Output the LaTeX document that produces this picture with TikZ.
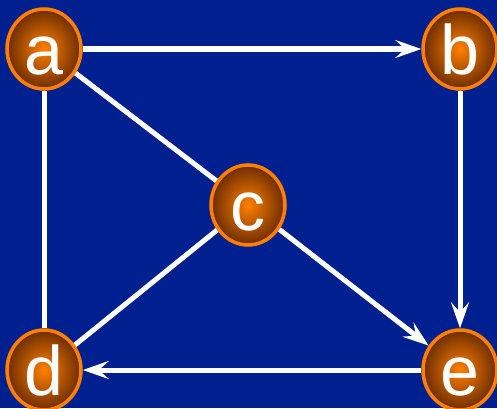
\documentclass[tikz,border=0pt]{standalone}
\usepackage{fontspec}
\setmainfont{Liberation Sans}
\usepackage{tikz}
\usetikzlibrary{shapes.geometric,arrows.meta}

\definecolor{bgblue}{RGB}{0,32,143}
\definecolor{nodeorange}{RGB}{255,128,0}
\definecolor{nodebrown}{RGB}{110,45,0}

\tikzset{
  vertex/.style={ellipse,draw=nodeorange,line width=3.5pt,inner color=nodeorange,outer color=nodebrown,
    minimum width=74pt,minimum height=80pt,inner sep=0pt,text=white,text height=50pt,text depth=0pt,
    font=\fontsize{70}{70}\selectfont},
  edge/.style={white,line width=5pt}
}

\begin{document}
\begin{tikzpicture}[x=1pt,y=1pt,>={Stealth[length=26pt,width=18pt,inset=10pt]}]
      \fill[bgblue] (0,0) rectangle (497,408);
      \useasboundingbox (0,0) rectangle (497,408);
      \node[vertex] (a) at (44,359) {a};
      \node[vertex] (b) at (460,359) {b};
      \node[vertex] (c) at (248,203) {c};
      \node[vertex] (d) at (44,38) {d};
      \node[vertex] (e) at (460,38) {e};
      \draw[edge,->] (a) -- (b);
      \draw[edge,->] (b) -- (e);
      \draw[edge,->] (c) -- (e);
      \draw[edge,->] (e) -- (d);
      \draw[edge] (a) -- (c);
      \draw[edge] (a) -- (d);
      \draw[edge] (c) -- (d);
   \end{tikzpicture}
\end{document}
